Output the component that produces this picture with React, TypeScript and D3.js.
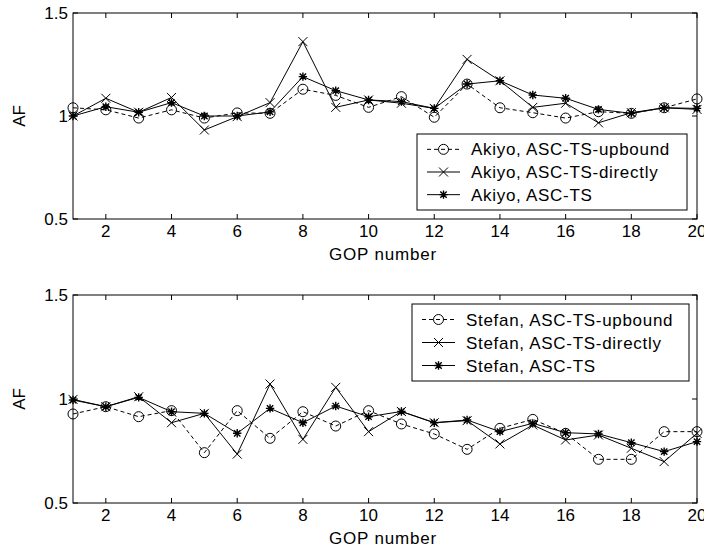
import React from "react";
import * as d3 from "d3";

const gop = d3.range(1, 21);
const xTicks = [2, 4, 6, 8, 10, 12, 14, 16, 18, 20];
const yTicks = [0.5, 1, 1.5];
const yTickLabels = ["0.5", "1", "1.5"];

const akiyoUpbound = [1.04, 1.03, 0.99, 1.03, 0.99, 1.015, 1.013, 1.13, 1.10, 1.042, 1.094, 0.994, 1.155, 1.04, 1.016, 0.99, 1.021, 1.013, 1.04, 1.083];
const akiyoDirectly = [1.0, 1.086, 1.018, 1.09, 0.932, 0.997, 1.065, 1.361, 1.042, 1.078, 1.062, 1.037, 1.275, 1.171, 1.042, 1.062, 0.967, 1.016, 1.04, 1.032];
const akiyoTS = [1.0, 1.045, 1.018, 1.065, 1.0, 1.0, 1.02, 1.191, 1.123, 1.078, 1.07, 1.037, 1.155, 1.171, 1.102, 1.086, 1.032, 1.013, 1.04, 1.037];

const stefanUpbound = [0.928, 0.963, 0.915, 0.944, 0.742, 0.944, 0.811, 0.939, 0.87, 0.944, 0.88, 0.832, 0.758, 0.859, 0.902, 0.835, 0.71, 0.71, 0.843, 0.843];
const stefanDirectly = [0.998, 0.963, 1.011, 0.886, 0.931, 0.735, 1.072, 0.806, 1.056, 0.843, 0.94, 0.886, 0.896, 0.784, 0.875, 0.803, 0.827, 0.763, 0.699, 0.835];
const stefanTS = [0.995, 0.963, 1.008, 0.939, 0.931, 0.835, 0.955, 0.886, 0.966, 0.915, 0.94, 0.886, 0.899, 0.843, 0.883, 0.838, 0.832, 0.79, 0.747, 0.795];

const akiyoLabels = ["Akiyo, ASC-TS-upbound", "Akiyo, ASC-TS-directly", "Akiyo, ASC-TS"];
const stefanLabels = ["Stefan, ASC-TS-upbound", "Stefan, ASC-TS-directly", "Stefan, ASC-TS"];

const FONT = "'Liberation Sans', Arial, sans-serif";
const FS = 17;

type Kind = "circle" | "x" | "star";

function Marker({ kind, cx, cy }: { kind: Kind; cx: number; cy: number }) {
  if (kind === "circle") {
    return <circle cx={cx} cy={cy} r={5} fill="none" stroke="#000" strokeWidth={1} />;
  }
  const s = 4.5;
  if (kind === "x") {
    return (
      <path
        d={`M${cx - s},${cy - s}L${cx + s},${cy + s}M${cx - s},${cy + s}L${cx + s},${cy - s}`}
        stroke="#000"
        strokeWidth={1}
      />
    );
  }
  const d = 4.2;
  const e = 3.2;
  return (
    <path
      d={`M${cx - d},${cy}L${cx + d},${cy}M${cx},${cy - d}L${cx},${cy + d}M${cx - e},${cy - e}L${cx + e},${cy + e}M${cx - e},${cy + e}L${cx + e},${cy - e}`}
      stroke="#000"
      strokeWidth={1.4}
    />
  );
}

type PanelProps = {
  top: number;
  bottom: number;
  series: number[][];
  labels: string[];
  legend: { x: number; y: number; w: number; h: number };
};

function Panel({ top, bottom, series, labels, legend }: PanelProps) {
  const left = 73;
  const right = 697;
  const x = d3.scaleLinear().domain([1, 20]).range([left, right]);
  const y = d3.scaleLinear().domain([0.5, 1.5]).range([bottom, top]);
  const kinds: Kind[] = ["circle", "x", "star"];
  const dashes = ["4,3", undefined, undefined];
  const line = (vals: number[]) =>
    d3.line<number>().x((_, i) => x(gop[i])).y((v) => y(v))(vals) || "";
  const tl = 5;
  const rowH = (legend.h - 8) / 3;
  return (
    <g>
      <rect x={left} y={top} width={right - left} height={bottom - top} fill="#fff" stroke="none" />
      {series.map((vals, si) => (
        <g key={si}>
          <path d={line(vals)} fill="none" stroke="#000" strokeWidth={1} strokeDasharray={dashes[si]} />
          {vals.map((v, i) => (
            <Marker key={i} kind={kinds[si]} cx={x(gop[i])} cy={y(v)} />
          ))}
        </g>
      ))}
      <rect x={left} y={top} width={right - left} height={bottom - top} fill="none" stroke="#000" strokeWidth={1} />
      {xTicks.map((t) => (
        <g key={t}>
          <line x1={x(t)} x2={x(t)} y1={bottom} y2={bottom - tl} stroke="#000" />
          <line x1={x(t)} x2={x(t)} y1={top} y2={top + tl} stroke="#000" />
          <text x={x(t)} y={bottom + 18} textAnchor="middle" fontFamily={FONT} fontSize={FS}>
            {t}
          </text>
        </g>
      ))}
      {yTicks.map((t, i) => (
        <g key={t}>
          <line x1={left} x2={left + tl} y1={y(t)} y2={y(t)} stroke="#000" />
          <line x1={right} x2={right - tl} y1={y(t)} y2={y(t)} stroke="#000" />
          <text x={left - 5} y={y(t) + 6} textAnchor="end" fontFamily={FONT} fontSize={FS}>
            {yTickLabels[i]}
          </text>
        </g>
      ))}
      <text
        transform={`translate(${25},${(top + bottom) / 2}) rotate(-90)`}
        textAnchor="middle"
        fontFamily={FONT}
        fontSize={FS}
      >
        AF
      </text>
      <text x={383} y={bottom + 41} textAnchor="middle" fontFamily={FONT} fontSize={17} letterSpacing={0.8}>
        GOP number
      </text>
      <rect x={legend.x} y={legend.y} width={legend.w} height={legend.h} fill="#fff" stroke="#000" strokeWidth={1} />
      {labels.map((lab, i) => {
        const cy = legend.y + 4 + rowH * (i + 0.5);
        const lx0 = legend.x + 10;
        const lx1 = legend.x + 43;
        const mx = (lx0 + lx1) / 2;
        return (
          <g key={i}>
            <line x1={lx0} x2={lx1} y1={cy} y2={cy} stroke="#000" strokeWidth={1} strokeDasharray={dashes[i]} />
            <Marker kind={kinds[i]} cx={mx} cy={cy} />
            <text x={legend.x + 54} y={cy + 6} fontFamily={FONT} fontSize={FS} letterSpacing={0.7}>
              {lab}
            </text>
          </g>
        );
      })}
    </g>
  );
}

export default function App() {
  return (
    <svg
      width={704}
      height={559}
      style={{ position: "absolute", left: 0, top: 0, background: "#fff" }}
    >
      <rect x={0} y={0} width={704} height={559} fill="#fff" />
      <Panel
        top={13}
        bottom={219}
        series={[akiyoUpbound, akiyoDirectly, akiyoTS]}
        labels={akiyoLabels}
        legend={{ x: 417, y: 134, w: 270, h: 76 }}
      />
      <Panel
        top={295}
        bottom={503}
        series={[stefanUpbound, stefanDirectly, stefanTS]}
        labels={stefanLabels}
        legend={{ x: 412, y: 304, w: 277, h: 77 }}
      />
    </svg>
  );
}
